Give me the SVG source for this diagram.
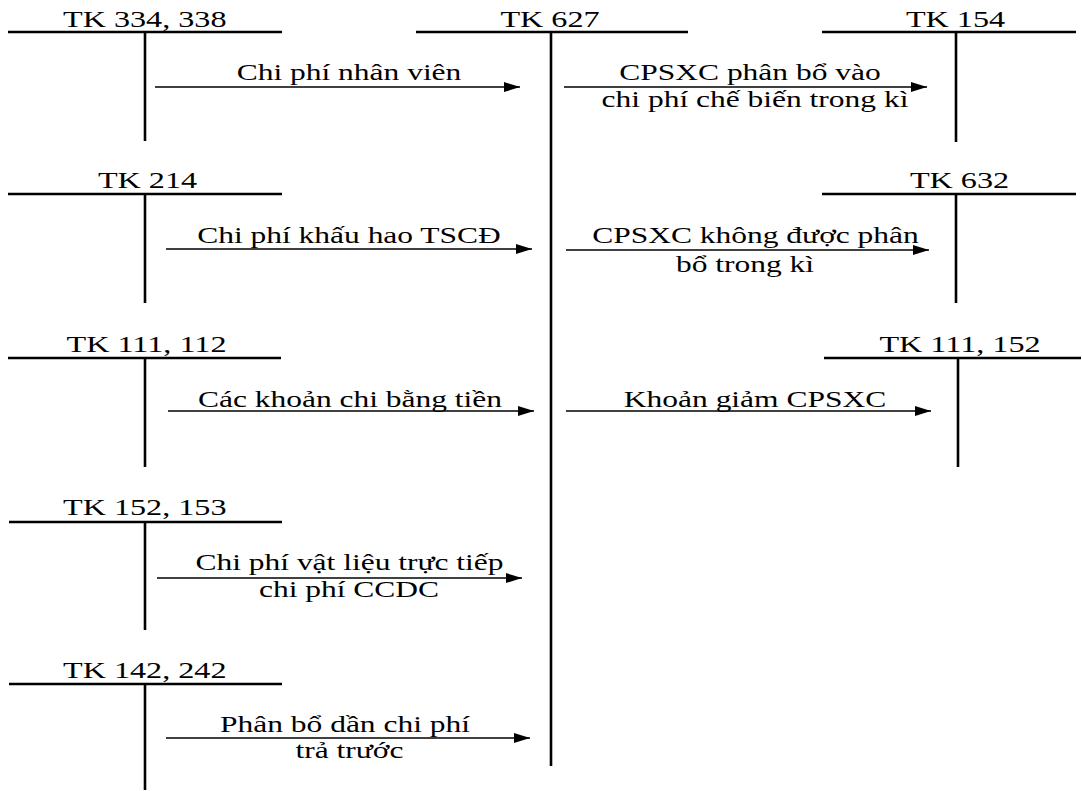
<svg xmlns="http://www.w3.org/2000/svg" width="1082" height="791" viewBox="0 0 1082 791">
<style>
text{font-family:"Liberation Serif","Times New Roman",serif;font-size:23.5px;fill:#000;text-anchor:middle}
.t{stroke:#000;stroke-width:2.6;fill:none}
.a{stroke:#000;stroke-width:1.6;fill:none;marker-end:url(#ah)}
</style>
<defs>
<marker id="ah" markerUnits="userSpaceOnUse" markerWidth="16" markerHeight="10" refX="16" refY="5" orient="auto">
<path d="M0,0 L16,5 L0,10 Z" fill="#000" stroke="none"/>
</marker>
</defs>
<rect width="1082" height="791" fill="#fff"/>
<g id="tk334">
<path class="t" d="M8,32H282M145,32V141"/>
<text transform="translate(144.75,27) scale(1.37,1)">TK 334, 338</text>
</g>
<g id="tk627">
<path class="t" d="M416,32H688M551,32V766"/>
<text transform="translate(550,27) scale(1.37,1)">TK 627</text>
</g>
<g id="tk154">
<path class="t" d="M822,32H1076M956,32V142"/>
<text transform="translate(955.5,27) scale(1.37,1)">TK 154</text>
</g>
<g id="tk214">
<path class="t" d="M8,194H282M145,194V303"/>
<text transform="translate(147.5,188) scale(1.37,1)">TK 214</text>
</g>
<g id="tk632">
<path class="t" d="M822,194H1076M956,194V303"/>
<text transform="translate(959.5,188) scale(1.37,1)">TK 632</text>
</g>
<g id="tk111_112">
<path class="t" d="M8,358H281M145,358V467"/>
<text transform="translate(146.5,352) scale(1.37,1)">TK 111, 112</text>
</g>
<g id="tk111_152">
<path class="t" d="M824,358H1081M958,358V467"/>
<text transform="translate(960,352) scale(1.37,1)">TK 111, 152</text>
</g>
<g id="tk152_153">
<path class="t" d="M9,522H282M145,522V630"/>
<text transform="translate(144.75,515) scale(1.37,1)">TK 152, 153</text>
</g>
<g id="tk142_242">
<path class="t" d="M9,684H282M145,684V790"/>
<text transform="translate(144.75,678) scale(1.37,1)">TK 142, 242</text>
</g>
<g id="connectors">
<line class="a" x1="155" y1="87" x2="520" y2="87"/>
<text transform="translate(349,80) scale(1.34,1)">Chi phí nhân viên</text>
<line class="a" x1="564" y1="87" x2="927" y2="87"/>
<text transform="translate(750,80) scale(1.34,1)">CPSXC phân bổ vào</text>
<text transform="translate(755,107) scale(1.34,1)">chi phí chế biến trong kì</text>
<line class="a" x1="166" y1="249" x2="532" y2="249"/>
<text transform="translate(349,243) scale(1.34,1)">Chi phí khấu hao TSCĐ</text>
<line class="a" x1="566" y1="250" x2="929" y2="250"/>
<text transform="translate(755.5,243) scale(1.34,1)">CPSXC không được phân</text>
<text transform="translate(745,272) scale(1.34,1)">bổ trong kì</text>
<line class="a" x1="168" y1="411" x2="534" y2="411"/>
<text transform="translate(350,407) scale(1.34,1)">Các khoản chi bằng tiền</text>
<line class="a" x1="566" y1="411" x2="931" y2="411"/>
<text transform="translate(755,407) scale(1.34,1)">Khoản giảm CPSXC</text>
<line class="a" x1="157" y1="578" x2="522" y2="578"/>
<text transform="translate(349.5,570) scale(1.34,1)">Chi phí vật liệu trực tiếp</text>
<text transform="translate(349,597) scale(1.34,1)">chi phí CCDC</text>
<line class="a" x1="166" y1="738" x2="530" y2="738"/>
<text transform="translate(345,732) scale(1.34,1)">Phân bổ dần chi phí</text>
<text transform="translate(349.5,758) scale(1.34,1)">trả trước</text>
</g>
</svg>
